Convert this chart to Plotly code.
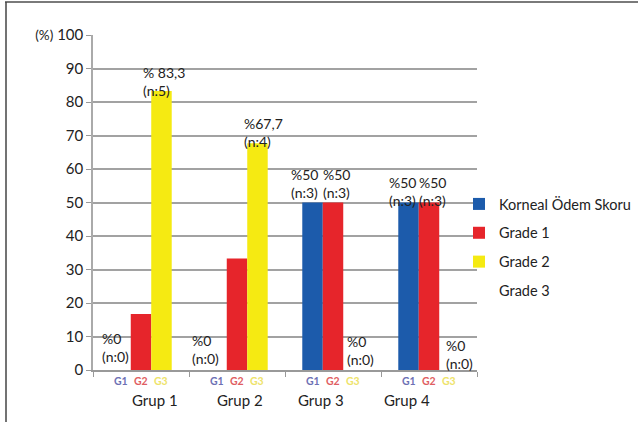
import plotly.graph_objects as go

# ---- data ----
groups = ["Grup 1", "Grup 2", "Grup 3", "Grup 4"]
legend_names = ["Korneal Ödem Skoru", "Grade 1", "Grade 2", "Grade 3"]
sub_labels = ["G1", "G2", "G3"]

g1_values = [0, 0, 50, 50]
g2_values = [16.7, 33.3, 50, 50]
g3_values = [83.3, 67.7, 0, 0]

g1_texts = ["%0<br>(n:0)", "%0<br>(n:0)", "%50<br>(n:3)", "%50<br>(n:3)"]
g2_texts = [None, None, "%50<br>(n:3)", "%50<br>(n:3)"]
g3_texts = ["% 83,3<br>(n:5)", "%67,7<br>(n:4)", "%0<br>(n:0)", "%0<br>(n:0)"]

y_ticks = [0, 10, 20, 30, 40, 50, 60, 70, 80, 90, 100]

# ---- style ----
W, H = 638, 422
M_L, M_R, M_T, M_B = 93, 161, 35, 52
PW, PH = W - M_L - M_R, H - M_T - M_B

bar_colors = ["#1c5bab", "#e6252b", "#f5ea12"]
sub_colors = ["#6d70b4", "#df5e62", "#eee36a"]
FONT = "Lato"
TXT = "#222222"
GRID = "#a2a2a2"
BARGAP = 0.36
bw = (1 - BARGAP) / 3

# label offsets (px) per series, per group: (xshift of left edge from bar centre, yshift)
label_shift = [
    [(-21, 3), (-27, 1), (-24, 0), (-22, -8)],
    [None, None, (-12, 0), (-12, -8)],
    [(-20, -10), (-15, -9), (-8, 0), (-5, -4)],
]
# group caption offsets from category centre (px)
group_shift = [14, 3, -12, -22]

values = [g1_values, g2_values, g3_values]
texts = [g1_texts, g2_texts, g3_texts]

fig = go.Figure()
for k in range(3):
    fig.add_trace(go.Bar(
        x=groups, y=values[k], name=legend_names[k],
        marker=dict(color=bar_colors[k], line=dict(width=0)),
        legendgroup=f"s{k}", hoverinfo="skip",
    ))
# fourth legend entry without visible swatch
fig.add_trace(go.Scatter(
    x=[None], y=[None], mode="markers", name=legend_names[3],
    marker=dict(color="rgba(0,0,0,0)", size=1), legendgroup="s3",
))

ann = []
for k in range(3):
    for i in range(len(groups)):
        t = texts[k][i]
        if t is None:
            continue
        dx, dy = label_shift[k][i]
        ann.append(dict(
            x=i + (k - 1) * bw, y=values[k][i], xref="x", yref="y",
            text=t, showarrow=False, xanchor="left", yanchor="bottom",
            align="left", xshift=dx, yshift=dy,
            font=dict(family=FONT, size=14, color=TXT),
        ))
    for i in range(len(groups)):
        ann.append(dict(
            x=i + (k - 1) * bw, y=0, xref="x", yref="paper",
            text=f"<b>{sub_labels[k]}</b>", showarrow=False,
            yanchor="middle", yshift=-11,
            font=dict(family=FONT, size=10.5, color=sub_colors[k]),
        ))
for i, g in enumerate(groups):
    ann.append(dict(
        x=i, y=0, xref="x", yref="paper", text=g, showarrow=False,
        yanchor="middle", yshift=-30, xshift=group_shift[i],
        font=dict(family=FONT, size=15, color=TXT),
    ))

tick_text = [str(v) for v in y_ticks]
tick_text[-1] = '<span style="font-size:13.5px">(%)</span> 100'

# outer frame lines (paper coordinates)
def px_x(p):
    return (p - M_L) / PW

def px_y(p):
    return (H - M_B - p) / PH

shapes = [
    dict(type="line", xref="paper", yref="paper", x0=px_x(5), x1=px_x(W + 5),
         y0=px_y(2), y1=px_y(2), line=dict(color="#7a7a7a", width=2)),
    dict(type="line", xref="paper", yref="paper", x0=px_x(6), x1=px_x(6),
         y0=px_y(2), y1=px_y(H + 5), line=dict(color="#444444", width=1.5)),
]

fig.update_layout(
    width=W, height=H,
    margin=dict(l=M_L, r=M_R, t=M_T, b=M_B, autoexpand=False),
    paper_bgcolor="white", plot_bgcolor="white",
    barmode="group", bargap=BARGAP, bargroupgap=0,
    font=dict(family=FONT, size=14, color=TXT),
    showlegend=True,
    legend=dict(
        x=px_x(459), y=px_y(188), xanchor="left", yanchor="top",
        font=dict(family=FONT, size=14.5, color=TXT),
        tracegroupgap=7, itemwidth=30, bgcolor="rgba(0,0,0,0)",
    ),
    annotations=ann, shapes=shapes,
)
fig.update_xaxes(
    type="category", showticklabels=False, ticks="outside", tickson="boundaries",
    ticklen=5, tickcolor="#999999", showline=True, linecolor="#999999", linewidth=1.5,
    showgrid=False, range=[-0.5, 3.5],
)
fig.update_yaxes(
    range=[0, 100], tickvals=y_ticks, ticktext=tick_text, ticks="outside",
    ticklen=5, tickcolor="#999999", showline=True, linecolor="#aaaaaa", linewidth=1.5,
    showgrid=True, gridcolor=GRID, gridwidth=1.5, zeroline=False,
    tickfont=dict(family=FONT, size=15, color=TXT),
)

fig.write_html("out.html", config={"displayModeBar": False})
